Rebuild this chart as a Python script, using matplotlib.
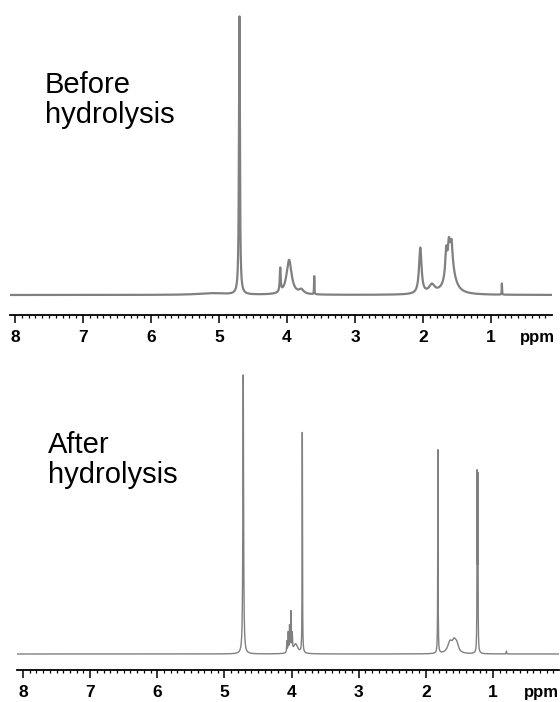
import numpy as np
import matplotlib
matplotlib.use('Agg')
import matplotlib.pyplot as plt
from matplotlib.ticker import MultipleLocator, FixedLocator

plt.rcParams['font.family'] = ['Liberation Sans', 'DejaVu Sans']

# Peak lists: shift (ppm), height (rel. to tallest), half width (ppm)
before_shift = [4.70, 4.10, 3.97, 3.79, 3.60, 2.04, 1.87, 1.66, 1.62, 1.58, 1.60, 0.84, 5.1]
before_height = [1.00, 0.085, 0.125, 0.015, 0.065, 0.165, 0.030, 0.090, 0.060, 0.060, 0.140, 0.040, 0.006]
before_width = [0.008, 0.008, 0.045, 0.04, 0.003, 0.022, 0.05, 0.015, 0.015, 0.015, 0.065, 0.003, 0.25]

after_shift = [4.72, 4.07, 4.05, 4.03, 4.01, 3.99, 3.94, 3.84, 1.82, 1.64, 1.58, 1.54, 1.235, 1.225, 0.80]
after_height = [1.00, 0.04, 0.07, 0.09, 0.14, 0.06, 0.035, 0.79, 0.73, 0.04, 0.035, 0.03, 0.61, 0.60, 0.010]
after_width = [0.006, 0.004, 0.004, 0.004, 0.004, 0.004, 0.04, 0.003, 0.003, 0.04, 0.03, 0.03, 0.003, 0.003, 0.003]

labels = ['Before\nhydrolysis', 'After\nhydrolysis']
major_ticks = [1, 2, 3, 4, 5, 6, 7, 8]

ppm = np.linspace(8.1, 0.0, 40000)


def spectrum(shift, height, width):
    y = np.zeros_like(ppm)
    for s, h, w in zip(shift, height, width):
        y += h / (1 + ((ppm - s) / w) ** 2)
    return y


def style_axis(ax, xlim, ylim, ppm_x):
    ax.set_xlim(*xlim)
    ax.set_ylim(*ylim)
    for side in ['left', 'right', 'top']:
        ax.spines[side].set_visible(False)
    ax.spines['bottom'].set_linewidth(1.3)
    ax.set_yticks([])
    ax.xaxis.set_major_locator(FixedLocator(major_ticks))
    ax.xaxis.set_minor_locator(MultipleLocator(0.1))
    ax.tick_params(axis='x', which='major', direction='out', length=6, width=1.1, pad=5)
    ax.tick_params(axis='x', which='minor', direction='out', length=2.5, width=0.9)
    for lab in ax.get_xticklabels():
        lab.set_fontweight('bold')
        lab.set_fontsize(12.5)
    ax.annotate('ppm', xy=(ppm_x, 0), xycoords=ax.get_xaxis_transform(),
                xytext=(0, -16), textcoords='offset points',
                ha='center', va='center', fontsize=12, fontweight='bold')


fig = plt.figure(figsize=(5.6, 7.02), dpi=100)

ax1 = fig.add_axes([10 / 560, 1 - 315 / 702, 542 / 560, 305 / 702])
ax1.plot(ppm, spectrum(before_shift, before_height, before_width), color='#808080', lw=1.6)
style_axis(ax1, (8.074, 0.103), (-20 / 278, 285 / 278), 0.31)

ax2 = fig.add_axes([17 / 560, 1 - 670 / 702, 542 / 560, 305 / 702])
ax2.plot(ppm, spectrum(after_shift, after_height, after_width), color='#808080', lw=1.0)
style_axis(ax2, (8.09, 0.016), (-16 / 279, 289 / 279), 0.285)

fig.text(45 / 560, 1 - 71 / 702, labels[0], fontsize=21, ha='left', va='top', linespacing=1.1)
fig.text(48 / 560, 1 - 431 / 702, labels[1], fontsize=21, ha='left', va='top', linespacing=1.1)

fig.savefig('out.png', dpi=100)
